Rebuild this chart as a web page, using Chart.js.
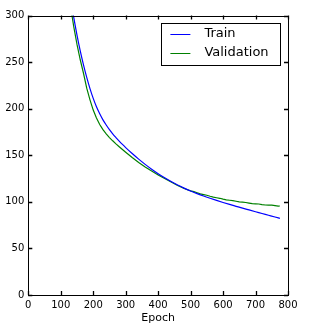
<!DOCTYPE html>
<html>
<head>
<meta charset="utf-8">
<script src="https://cdn.jsdelivr.net/npm/chart.js@4/dist/chart.umd.min.js"></script>
<style>
html,body{margin:0;padding:0;background:#fff;}
#wrap{width:309px;height:335px;position:relative;}
</style>
</head>
<body>
<div id="wrap"><canvas id="c" width="309" height="335"></canvas></div>
<script>
const seriesNames = ["Train", "Validation"];
const seriesColors = ["#0000ff", "#008000"];
const xTickValues = [0, 100, 200, 300, 400, 500, 600, 700, 800];
const yTickValues = [0, 50, 100, 150, 200, 250, 300];
const xTitle = "Epoch";

const trainEpochs = [100,110,120,130,140,150,160,170,180,190,200,210,220,230,240,250,260,270,280,290,300,
  320,340,360,380,400,420,440,460,480,500,
  520,540,560,580,600,620,640,660,680,700,720,740,760,775];
const trainLoss = [410,375,345,320,298,279,262,247,233.5,221.5,211,202,194.5,188,182.5,177.5,173,169,165.2,161.6,158.2,
  151.8,145.8,140.2,135,130.2,125.8,121.8,118.1,114.7,111.6,
  108.8,106.2,103.8,101.5,99.3,97.2,95.2,93.2,91.3,89.4,87.5,85.6,83.7,82.3];

const valEpochs = [100,110,120,130,140,150,160,170,180,190,200,210,220,230,240,250,260,270,280,290,300,
  320,340,360,380,400,420,440,460,480,
  500,510,520,530,540,550,560,570,580,590,600,610,620,630,640,650,660,670,680,690,700,710,720,730,740,750,760,770,775];
const valLoss = [400,366,336,310,288,269,252.5,238,222,209.5,198.5,190,183,177.5,173,169,165.5,162.2,159.1,156.1,153.2,
  147.5,142.2,137.4,133,128.9,125,121.2,117.6,114.3,
  111.8,110.9,109.7,108.5,107.8,107.1,106.0,105.0,104.4,103.8,102.9,102.1,101.7,101.3,100.6,99.9,99.6,99.3,98.7,98.1,97.9,97.7,97.1,96.6,96.5,96.4,95.9,95.4,95.5];

const toPts = (xs, ys) => xs.map((x, i) => ({x: x, y: ys[i]}));

const FONT = "'DejaVu Sans', sans-serif";

const framePlugin = {
  id: 'frame',
  afterDatasetsDraw(chart) {
    const {ctx, chartArea: a, scales} = chart;
    const xs = scales.x, ys = scales.y;
    ctx.save();
    ctx.strokeStyle = '#000';
    ctx.lineWidth = 1;
    ctx.strokeRect(Math.round(a.left) + 0.5, Math.round(a.top) + 0.5,
      Math.round(a.right) - Math.round(a.left), Math.round(a.bottom) - Math.round(a.top));
    ctx.lineWidth = 1.3;
    const L = 4;
    ctx.beginPath();
    xTickValues.forEach(v => {
      const px = Math.round(xs.getPixelForValue(v)) + 0.5;
      ctx.moveTo(px, a.bottom); ctx.lineTo(px, a.bottom - L);
      ctx.moveTo(px, a.top); ctx.lineTo(px, a.top + L);
    });
    yTickValues.forEach(v => {
      const py = Math.round(ys.getPixelForValue(v)) + 0.5;
      ctx.moveTo(a.left, py); ctx.lineTo(a.left + L, py);
      ctx.moveTo(a.right, py); ctx.lineTo(a.right - L, py);
    });
    ctx.stroke();

    // legend
    const lx = xs.getPixelForValue(410), ly = a.top + 7;
    const lw = 119, lh = 42;
    ctx.fillStyle = '#fff';
    ctx.fillRect(lx, ly, lw, lh);
    ctx.lineWidth = 1;
    ctx.strokeStyle = '#000';
    ctx.strokeRect(Math.round(lx) + 0.5, Math.round(ly) + 0.5, lw, lh);
    ctx.font = "13px " + FONT;
    ctx.textBaseline = 'middle';
    ctx.textAlign = 'left';
    chart.data.datasets.forEach((ds, i) => {
      const cy = ly + 11 + i * 19.5;
      ctx.strokeStyle = ds.borderColor;
      ctx.lineWidth = 1;
      ctx.beginPath();
      ctx.moveTo(lx + 9, Math.round(cy) + 0.5);
      ctx.lineTo(lx + 29, Math.round(cy) + 0.5);
      ctx.stroke();
      ctx.fillStyle = '#000';
      ctx.fillText(ds.label, lx + 43, cy);
    });
    ctx.restore();
  }
};

new Chart(document.getElementById('c'), {
  type: 'line',
  data: {
    datasets: [
      {label: seriesNames[0], data: toPts(trainEpochs, trainLoss), borderColor: seriesColors[0], borderWidth: 1.2, pointRadius: 0, cubicInterpolationMode: 'monotone', fill: false},
      {label: seriesNames[1], data: toPts(valEpochs, valLoss), borderColor: seriesColors[1], borderWidth: 1.2, pointRadius: 0, tension: 0, fill: false}
    ]
  },
  options: {
    responsive: false,
    animation: false,
    devicePixelRatio: 1,
    layout: {padding: {left: 0, top: 15.5, right: 21, bottom: 0}},
    plugins: {legend: {display: false}, tooltip: {enabled: false}},
    scales: {
      x: {
        type: 'linear', min: 0, max: 800,
        afterFit(s) { s.height = 40; },
        afterBuildTicks(s) { s.ticks = xTickValues.map(v => ({value: v})); },
        grid: {display: false, drawTicks: false},
        border: {display: false},
        ticks: {color: '#000', font: {family: FONT, size: 10}, padding: 4, maxRotation: 0, autoSkip: false},
        title: {display: true, text: xTitle, color: '#000', font: {family: FONT, size: 11}, padding: {top: 0, bottom: 10}}
      },
      y: {
        type: 'linear', min: 0, max: 300,
        afterFit(s) { s.width = 28.3; },
        afterBuildTicks(s) { s.ticks = yTickValues.map(v => ({value: v})); },
        grid: {display: false, drawTicks: false},
        border: {display: false},
        ticks: {color: '#000', font: {family: FONT, size: 10}, padding: 4, autoSkip: false}
      }
    }
  },
  plugins: [framePlugin]
});
</script>
</body>
</html>
